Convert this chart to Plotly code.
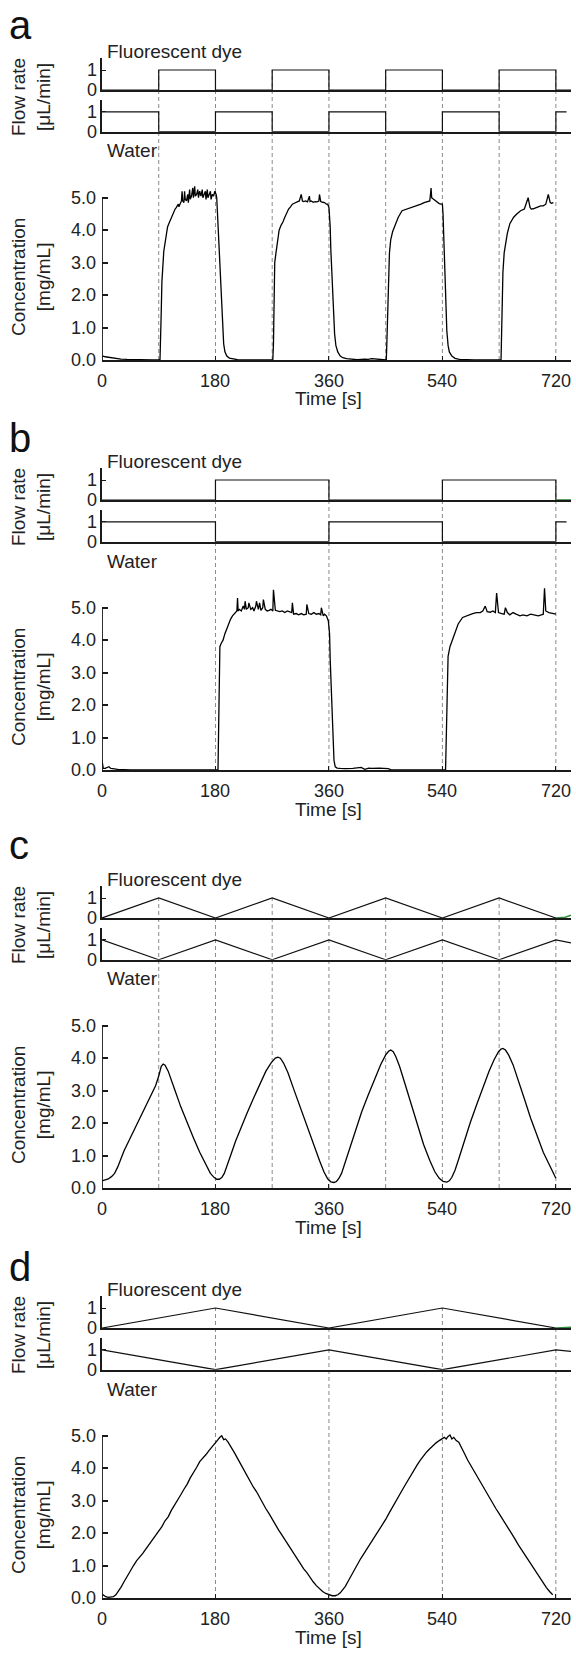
import plotly.graph_objects as go

W, H = 576, 1656
FONT = "Liberation Sans, Arial, sans-serif"

# ---------------- data ----------------
time_ticks = [0, 180, 360, 540, 720]
time_tick_text = ["0", "180", "360", "540", "720"]
conc_ticks = [0, 1, 2, 3, 4, 5]
conc_tick_text = ["0.0", "1.0", "2.0", "3.0", "4.0", "5.0"]
flow_ticks = [0, 1]
flow_tick_text = ["0", "1"]
panel_letters = ["a", "b", "c", "d"]

# panel a : square waves, 90 s half period
a_dye_t = [0, 90, 90, 180, 180, 270, 270, 360, 360, 450, 450, 540, 540, 630, 630, 720, 720, 744]
a_dye_v = [0, 0, 1, 1, 0, 0, 1, 1, 0, 0, 1, 1, 0, 0, 1, 1, 0, 0]
a_water_t = [0, 90, 90, 180, 180, 270, 270, 360, 360, 450, 450, 540, 540, 630, 630, 720, 720, 737]
a_water_v = [1, 1, 0, 0, 1, 1, 0, 0, 1, 1, 0, 0, 1, 1, 0, 0, 1, 1]
a_tail_t = []
a_tail_v = []
a_switch = [90, 180, 270, 360, 450, 540, 630, 720]
a_conc_t = [0, 2, 5, 8, 12, 16, 20, 25, 30, 40, 50, 60, 80, 92, 93, 94, 95, 96, 97, 98, 100, 102, 104,
            106, 108, 110, 112, 114, 116, 118, 120, 121, 122, 124, 126, 127, 128, 130, 131, 132, 134,
            136, 137, 139, 140, 142, 144, 145, 147, 148, 150, 152, 153, 155, 157, 159, 160, 162, 164,
            165, 167, 168, 170, 172, 173, 175, 177, 179, 181, 182, 183, 185, 187, 189, 191, 193, 195,
            198, 202, 208, 215, 225, 271,
            272, 273, 274, 276, 278, 281, 284, 287, 290, 293, 296, 299, 302, 305, 308, 311, 313, 316,
            318, 320, 323, 326, 329, 330, 332, 335, 338, 341, 344, 345, 347, 350, 353, 356, 358, 360,
            362, 363, 365, 367, 369, 371, 374, 378, 382, 388, 394, 405, 417, 422, 428, 440, 451,
            452, 453, 454, 456, 458, 461, 465, 470, 476, 482, 488, 494, 500, 506, 511, 516, 520, 522,
            523, 526, 529, 532, 535, 538, 540, 541, 542, 543, 545, 547, 549, 551, 555, 560, 567, 574, 590, 633,
            634, 635, 636, 638, 640, 643, 647, 650, 653, 658, 664, 670, 676, 679, 681, 684, 688, 692,
            696, 700, 704, 708, 711, 713, 716, 720]
a_conc_v = [0.10, 0.12, 0.10, 0.09, 0.08, 0.06, 0.05, 0.04, 0.03, 0.02, 0.01, 0.0, 0.0, 0.0, 0.5, 1.5, 2.4,
            2.9, 3.2, 3.35, 3.6, 3.9, 4.1, 4.2, 4.3, 4.35, 4.45, 4.55, 4.65, 4.7, 4.75, 4.8, 4.72, 4.85,
            4.9, 5.2, 4.9, 4.85, 5.2, 4.95, 4.9, 5.1, 4.85, 5.25, 4.95, 5.05, 5.3, 5.0, 5.35, 5.05, 5.1,
            5.25, 5.0, 5.2, 5.05, 5.25, 5.0, 5.1, 5.2, 4.95, 5.25, 5.0, 5.1, 5.2, 4.95, 5.1, 5.05, 5.2,
            5.1, 5.0, 4.6, 3.8, 2.8, 1.8, 1.0, 0.5, 0.25, 0.12, 0.06, 0.03, 0.01, 0.0, 0.0,
            0.5, 2.0, 3.0, 3.3, 3.6, 4.0, 4.15, 4.25, 4.4, 4.55, 4.65, 4.72, 4.8, 4.83, 4.86, 4.88,
            4.9, 5.1, 4.9, 4.88, 4.9, 4.87, 5.05, 4.88, 4.9, 4.86, 4.88, 4.87, 4.9, 5.1, 4.88, 4.86,
            4.85, 4.8, 4.8, 4.7, 4.1, 3.4, 2.4, 1.4, 0.8, 0.45, 0.25, 0.12, 0.07, 0.04, 0.03, 0.01,
            0.03, 0.02, 0.04, 0.01, 0.0,
            0.6, 1.3, 2.5, 3.3, 3.7, 3.95, 4.15, 4.4, 4.6, 4.64, 4.66, 4.7, 4.75, 4.8, 4.85, 4.88,
            4.9, 5.3, 5.0, 4.95, 4.9, 4.85, 4.82, 4.8, 4.8, 4.5, 3.9, 3.0, 1.9, 0.9, 0.45, 0.25, 0.12,
            0.05, 0.02, 0.01, 0.0, 0.0,
            0.8, 1.8, 2.7, 3.3, 3.6, 3.9, 4.2, 4.3, 4.4, 4.5, 4.6, 4.65, 5.0, 4.7, 4.65, 4.66,
            4.7, 4.72, 4.75, 4.75, 4.8, 5.1, 4.85, 4.83, 4.85]

# panel b : square waves, 180 s half period
b_dye_t = [0, 180, 180, 360, 360, 540, 540, 720, 720]
b_dye_v = [0, 0, 1, 1, 0, 0, 1, 1, 0]
b_water_t = [0, 180, 180, 360, 360, 540, 540, 720, 720, 737]
b_water_v = [1, 1, 0, 0, 1, 1, 0, 0, 1, 1]
b_tail_t = [720, 744]
b_tail_v = [0, 0]
b_switch = [180, 360, 540, 720]
b_conc_t = [0, 1, 2, 5, 8, 11, 14, 20, 25, 35, 45, 184,
            185, 186, 187, 189, 192, 195, 198, 201, 204, 207, 210, 212, 214, 215, 216, 218, 221, 224,
            226, 227, 229, 232, 233, 236, 239, 241, 244, 245, 248, 250, 252, 255, 256, 259, 262, 265,
            268, 271, 272, 275, 278, 282, 286, 290, 294, 297, 301, 302, 304, 308, 312, 316, 320, 324,
            325, 328, 332, 336, 340, 344, 347, 348, 351, 353, 356, 359, 361, 362, 364, 366, 368, 370,
            373, 378, 386, 398, 411, 417, 423, 428, 440, 454, 460, 545,
            546, 547, 549, 552, 555, 559, 565, 572, 578, 583, 588, 594, 600, 604, 608, 611, 616, 620,
            624, 626, 629, 634, 638, 640, 643, 647, 652, 657, 663, 668, 674, 680, 686, 692, 697, 700,
            702, 704, 709, 714, 718, 720]
b_conc_v = [0.3, 0.2, 0.05, 0.05, 0.08, 0.1, 0.05, 0.03, 0.02, 0.01, 0.0, 0.0,
            1.5, 3.0, 3.8, 3.9, 4.0, 4.2, 4.35, 4.55, 4.65, 4.75, 4.82, 4.85, 4.9, 5.3, 4.9, 4.95,
            4.9, 5.05, 4.95, 5.2, 4.95, 5.0, 5.15, 4.95, 5.0, 4.9, 5.05, 5.2, 4.95, 5.15, 4.92, 5.0,
            5.25, 4.95, 4.9, 4.92, 4.95, 4.9, 5.55, 4.92, 4.9, 4.88, 4.9, 4.85, 4.9, 4.88, 4.85, 5.15,
            4.8, 4.82, 4.78, 4.82, 4.78, 4.8, 5.1, 4.82, 4.8, 4.85, 4.8, 4.82, 4.78, 5.0, 4.75, 4.8,
            4.75, 4.6, 4.2, 3.4, 2.35, 1.0, 0.3, 0.1, 0.06, 0.05, 0.04, 0.05, 0.08, 0.02, 0.06, 0.05,
            0.06, 0.04, 0.0, 0.0,
            1.2, 2.2, 3.5, 3.8, 3.95, 4.2, 4.5, 4.7, 4.75, 4.8, 4.82, 4.85, 4.85, 4.9, 5.05, 4.88,
            4.86, 4.9, 4.85, 5.45, 4.85, 4.82, 4.8, 5.0, 4.85, 4.78, 4.85, 4.8, 4.75, 4.78, 4.75,
            4.8, 4.78, 4.75, 4.78, 4.8, 5.6, 4.9, 4.85, 4.82, 4.8, 4.8]

# panel c : triangle waves, 90 s half period
c_dye_t = [0, 90, 180, 270, 360, 450, 540, 630, 720]
c_dye_v = [0, 1, 0, 1, 0, 1, 0, 1, 0]
c_water_t = [0, 90, 180, 270, 360, 450, 540, 630, 720, 744]
c_water_v = [1, 0, 1, 0, 1, 0, 1, 0, 1, 0.85]
c_tail_t = [720, 735, 744]
c_tail_v = [0, 0.04, 0.14]
c_switch = [90, 180, 270, 360, 450, 540, 630, 720]
c_conc_t = [0, 5, 10, 15, 20, 25, 30, 35, 45, 55, 65, 75, 85, 90, 94, 97, 100, 105, 110, 115, 125, 135,
            145, 155, 165, 172, 178, 182, 186, 190, 194, 198, 204, 212, 220, 230, 240, 250, 260, 268,
            275, 279, 283, 288, 295, 305, 315, 325, 335, 345, 352, 358, 363, 368, 372, 376, 380, 386,
            394, 402, 412, 422, 432, 442, 450, 455, 458, 462, 466, 472, 480, 490, 500, 510, 520, 528,
            535, 541, 547, 551, 555, 560, 566, 574, 584, 594, 604, 614, 622, 629, 633, 636, 640, 645,
            652, 660, 670, 680, 690, 700, 710, 720]
c_conc_v = [0.22, 0.25, 0.28, 0.35, 0.45, 0.65, 0.9, 1.15, 1.55, 1.95, 2.3, 2.7, 3.15, 3.45, 3.75,
            3.82, 3.78, 3.6, 3.35, 3.05, 2.5, 2.0, 1.55, 1.1, 0.7, 0.45, 0.32, 0.27, 0.27, 0.32, 0.45,
            0.65, 1.0, 1.45, 1.85, 2.3, 2.75, 3.2, 3.6, 3.85, 4.0, 4.03, 4.0, 3.85, 3.55, 3.0, 2.45,
            1.9, 1.35, 0.85, 0.5, 0.28, 0.19, 0.17, 0.2, 0.3, 0.45, 0.8, 1.3, 1.8, 2.35, 2.85, 3.3,
            3.8, 4.1, 4.22, 4.25, 4.2, 4.05, 3.75, 3.25, 2.6, 1.95, 1.35, 0.85, 0.5, 0.3, 0.2, 0.18,
            0.22, 0.33, 0.55, 0.9, 1.4, 2.0, 2.55, 3.1, 3.6, 3.95, 4.2, 4.28, 4.3, 4.25, 4.1, 3.8,
            3.35, 2.75, 2.15, 1.6, 1.1, 0.7, 0.3]

# panel d : triangle waves, 180 s half period
d_dye_t = [0, 180, 360, 540, 720]
d_dye_v = [0, 1, 0, 1, 0]
d_water_t = [0, 180, 360, 540, 720, 744]
d_water_v = [1, 0, 1, 0, 1, 0.92]
d_tail_t = [720, 744]
d_tail_v = [0, 0.04]
d_switch = [180, 360, 540, 720]
d_conc_t = [0, 3, 6, 10, 14, 18, 22, 26, 30, 35, 40, 45, 50, 55, 60, 65, 70, 75, 80, 85, 90, 95, 100,
            105, 110, 115, 120, 125, 130, 135, 140, 145, 150, 155, 160, 165, 170, 175, 180, 184, 187,
            190, 193, 196, 200, 205, 210, 215, 220, 225, 230, 235, 240, 245, 250, 255, 260, 265, 270,
            275, 280, 285, 290, 295, 300, 305, 310, 315, 320, 325, 330, 335, 340, 345, 350, 355, 360,
            365, 370, 374, 378, 382, 386, 390, 395, 400, 405, 410, 415, 420, 425, 430, 435, 440, 445,
            450, 455, 460, 465, 470, 475, 480, 485, 490, 495, 500, 505, 510, 515, 520, 525, 530, 535,
            540, 543, 546, 549, 552, 555, 558, 562, 566, 570, 575, 580, 585, 590, 595, 600, 605, 610,
            615, 620, 625, 630, 635, 640, 645, 650, 655, 660, 665, 670, 675, 680, 685, 690, 695, 700,
            705, 710, 715, 720]
d_conc_v = [0.12, 0.08, 0.04, 0.02, 0.02, 0.04, 0.1, 0.2, 0.33, 0.5, 0.68, 0.85, 1.0, 1.15, 1.25,
            1.38, 1.52, 1.65, 1.8, 1.92, 2.05, 2.2, 2.38, 2.5, 2.7, 2.85, 3.0, 3.18, 3.35, 3.5, 3.7,
            3.85, 4.02, 4.2, 4.3, 4.42, 4.55, 4.68, 4.8, 4.88, 4.95, 5.0, 4.88, 4.9, 4.8, 4.65, 4.48,
            4.3, 4.12, 3.95, 3.8, 3.62, 3.42, 3.28, 3.1, 2.9, 2.75, 2.6, 2.42, 2.25, 2.1, 1.95, 1.8,
            1.62, 1.48, 1.32, 1.18, 1.02, 0.9, 0.78, 0.62, 0.5, 0.38, 0.28, 0.2, 0.14, 0.1, 0.07, 0.07,
            0.1, 0.16, 0.25, 0.36, 0.5, 0.68, 0.85, 1.02, 1.2, 1.35, 1.5, 1.65, 1.8, 1.95, 2.1, 2.28,
            2.42, 2.6, 2.78, 2.95, 3.12, 3.28, 3.45, 3.62, 3.8, 3.95, 4.1, 4.25, 4.38, 4.5, 4.6, 4.7,
            4.78, 4.85, 4.9, 4.95, 4.9, 4.98, 5.02, 4.9, 4.95, 4.85, 4.8, 4.62, 4.45, 4.25, 4.08, 3.92,
            3.75, 3.58, 3.42, 3.25, 3.08, 2.92, 2.75, 2.6, 2.45, 2.28, 2.12, 1.98, 1.82, 1.65, 1.5,
            1.35, 1.2, 1.05, 0.9, 0.75, 0.6, 0.45, 0.32, 0.2, 0.1]

panels = [
    dict(dye_t=a_dye_t, dye_v=a_dye_v, water_t=a_water_t, water_v=a_water_v, tail_t=a_tail_t,
         tail_v=a_tail_v, switch=a_switch, conc_t=a_conc_t, conc_v=a_conc_v),
    dict(dye_t=b_dye_t, dye_v=b_dye_v, water_t=b_water_t, water_v=b_water_v, tail_t=b_tail_t,
         tail_v=b_tail_v, switch=b_switch, conc_t=b_conc_t, conc_v=b_conc_v),
    dict(dye_t=c_dye_t, dye_v=c_dye_v, water_t=c_water_t, water_v=c_water_v, tail_t=c_tail_t,
         tail_v=c_tail_v, switch=c_switch, conc_t=c_conc_t, conc_v=c_conc_v),
    dict(dye_t=d_dye_t, dye_v=d_dye_v, water_t=d_water_t, water_v=d_water_v, tail_t=d_tail_t,
         tail_v=d_tail_v, switch=d_switch, conc_t=d_conc_t, conc_v=d_conc_v),
]

# ---------------- layout geometry (pixels) ----------------
offsets = [0, 410, 828, 1238]
letter_y = [25, 438, 845, 1267]
X0, X1 = 102, 571
X_RANGE = [0, 744]
FLOW_RANGE = [0, 1.6]
CONC_RANGE = [0, 5.9]
TOP_PX = (58, 90)
WAT_PX = (100, 131.7)
CONC_PX = (168.5, 360)
XLABEL_PX = 380.7
TITLE_PX = 399


def py(p):
    return 1 - p / H


def px(p):
    return p / W


fig = go.Figure()
layout = dict(width=W, height=H, margin=dict(l=0, r=0, t=0, b=0), showlegend=False,
              paper_bgcolor="white", plot_bgcolor="white",
              font=dict(family=FONT, size=18, color="#222"))
shapes = []
annotations = []

AX_COLOR = "#1a1a1a"
TXT = "#222"


def axis_name(kind, n):
    return kind + ("" if n == 1 else str(n))


def label(text, x, y, xref="paper", yref="paper", xanchor="center", yanchor="middle", size=18,
          angle=0, color=TXT):
    return dict(text=text, x=x, y=y, xref=xref, yref=yref, xanchor=xanchor, yanchor=yanchor,
                showarrow=False, textangle=angle, borderpad=0, borderwidth=0,
                font=dict(size=size, color=color, family=FONT))


for i, (pd_, off) in enumerate(zip(panels, offsets)):
    n_top, n_wat, n_conc = 3 * i + 1, 3 * i + 2, 3 * i + 3
    doms = {
        n_top: [py(TOP_PX[1] + off), py(TOP_PX[0] + off)],
        n_wat: [py(WAT_PX[1] + off), py(WAT_PX[0] + off)],
        n_conc: [py(CONC_PX[1] + off), py(CONC_PX[0] + off)],
    }
    for n in (n_top, n_wat, n_conc):
        is_conc = n == n_conc
        layout[axis_name("xaxis", n)] = dict(
            domain=[px(X0), px(X1)], range=X_RANGE, anchor=axis_name("y", n),
            showline=True, linecolor=AX_COLOR, linewidth=1.8, showgrid=False, zeroline=False,
            ticks="inside" if is_conc else "", ticklen=4, tickcolor=AX_COLOR, tickwidth=1.2,
            tickvals=time_ticks if is_conc else [], showticklabels=False, fixedrange=True)
        if is_conc:
            layout[axis_name("yaxis", n)] = dict(
                domain=doms[n], range=CONC_RANGE, anchor=axis_name("x", n),
                showline=False, showgrid=False, zeroline=False, ticks="inside", ticklen=6,
                tickwidth=1.5, tickcolor=AX_COLOR, tickvals=conc_ticks, showticklabels=False,
                fixedrange=True)
        else:
            layout[axis_name("yaxis", n)] = dict(
                domain=doms[n], range=FLOW_RANGE, anchor=axis_name("x", n),
                showline=True, linecolor=AX_COLOR, linewidth=1.5, showgrid=False, zeroline=False,
                ticks="inside", ticklen=4, tickwidth=1.2, tickcolor=AX_COLOR, tickvals=flow_ticks,
                showticklabels=False, fixedrange=True)

    # tick labels (positioned through each axis' own scale)
    for t, txt in zip(time_ticks, time_tick_text):
        annotations.append(label(txt, t, py(XLABEL_PX + off), xref=axis_name("x", n_conc)))
    for v, txt in zip(conc_ticks, conc_tick_text):
        annotations.append(label(txt, px(95.5), v, yref=axis_name("y", n_conc), xanchor="right"))
    for n in (n_top, n_wat):
        for v, txt in zip(flow_ticks, flow_tick_text):
            annotations.append(label(txt, px(96.5), v, yref=axis_name("y", n), xanchor="right"))

    # conc y-axis line only from 0 to 5
    shapes.append(dict(type="line", xref=axis_name("x", n_conc), yref=axis_name("y", n_conc),
                       x0=0, x1=0, y0=0, y1=conc_ticks[-1],
                       line=dict(color=AX_COLOR, width=1.8)))

    # dashed switch lines spanning the three subplots
    def dye_at(t, ts=pd_["dye_t"], vs=pd_["dye_v"]):
        best = None
        for tt, vv in zip(ts, vs):
            if abs(tt - t) < 1e-9:
                best = vv if best is None else max(best, vv)
        if best is None:
            for k in range(len(ts) - 1):
                if ts[k] <= t <= ts[k + 1]:
                    f = (t - ts[k]) / (ts[k + 1] - ts[k])
                    best = vs[k] + f * (vs[k + 1] - vs[k])
        return best

    d_top = doms[n_top]
    for t in pd_["switch"]:
        v = dye_at(t)
        ytop = d_top[0] + (v - FLOW_RANGE[0]) / (FLOW_RANGE[1] - FLOW_RANGE[0]) * (d_top[1] - d_top[0])
        shapes.append(dict(type="line", xref=axis_name("x", n_conc), yref="paper",
                           x0=t, x1=t, y0=doms[n_conc][0], y1=ytop, layer="below",
                           line=dict(color="#8a8a8a", width=1, dash="4px,3px")))

    # traces
    fig.add_trace(go.Scatter(x=pd_["dye_t"], y=pd_["dye_v"], mode="lines",
                             line=dict(color="#111", width=1.2),
                             xaxis=axis_name("x", n_top), yaxis=axis_name("y", n_top)))
    if pd_["tail_t"]:
        fig.add_trace(go.Scatter(x=pd_["tail_t"], y=pd_["tail_v"], mode="lines",
                                 line=dict(color="#2e8b3a", width=1.6),
                                 xaxis=axis_name("x", n_top), yaxis=axis_name("y", n_top)))
    fig.add_trace(go.Scatter(x=pd_["water_t"], y=pd_["water_v"], mode="lines",
                             line=dict(color="#111", width=1.2),
                             xaxis=axis_name("x", n_wat), yaxis=axis_name("y", n_wat)))
    fig.add_trace(go.Scatter(x=pd_["conc_t"], y=pd_["conc_v"], mode="lines",
                             line=dict(color="#000", width=1.3),
                             xaxis=axis_name("x", n_conc), yaxis=axis_name("y", n_conc)))

    # texts
    annotations.append(label(panel_letters[i], px(9), py(letter_y[i]), xanchor="left", size=40,
                             color="#111"))
    annotations.append(label("Fluorescent dye", px(106.5), py(51.5 + off), xanchor="left", size=19))
    annotations.append(label("Water", px(106.5), py(151 + off), xanchor="left", size=19))
    annotations.append(label("Flow rate<br>[μL/min]", px(31), py(97 + off), size=19, angle=-90))
    annotations.append(label("Concentration<br>[mg/mL]", px(31), py(277 + off), size=19, angle=-90))
    annotations.append(label("Time [s]", px(328), py(TITLE_PX + off), size=19))

layout["shapes"] = shapes
layout["annotations"] = annotations
fig.update_layout(**layout)
fig.write_html("out.html", config={"displayModeBar": False},
               post_script="document.body.style.margin='0px';"
                           "document.body.style.overflow='hidden';")
